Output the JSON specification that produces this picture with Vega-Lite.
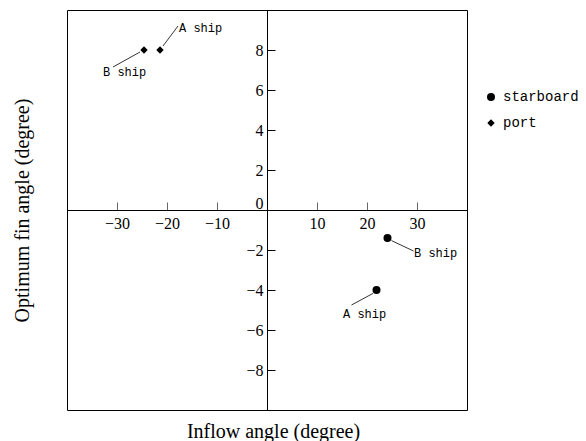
{
  "$schema": "https://vega.github.io/schema/vega-lite/v6.json",
  "width": 400,
  "height": 400,
  "autosize": {"type": "none"},
  "padding": {"left": 67, "top": 10, "right": 119, "bottom": 31},
  "background": "white",
  "config": {
    "view": {"stroke": "black", "strokeWidth": 1},
    "text": {"font": "Liberation Mono"}
  },
  "layer": [
    {
      "data": {"values": [
        {"series": "starboard", "ship": "A ship", "x": 21.9, "y": -4.0},
        {"series": "starboard", "ship": "B ship", "x": 24.1, "y": -1.4},
        {"series": "port", "ship": "A ship", "x": -21.4, "y": 8},
        {"series": "port", "ship": "B ship", "x": -24.6, "y": 8}
      ]},
      "mark": {"type": "point", "filled": true, "color": "black", "opacity": 1},
      "encoding": {
        "x": {
          "field": "x", "type": "quantitative",
          "scale": {"domain": [-40, 40], "nice": false, "zero": false},
          "axis": {
            "orient": "bottom", "offset": -200, "values": [-30, -20, -10, 10, 20, 30],
            "grid": false, "tickSize": -8, "tickColor": "#666", "tickWidth": 1,
            "domainColor": "black", "domainWidth": 1,
            "labelFont": "Liberation Serif", "labelFontSize": 16, "labelColor": "black",
            "labelPadding": 13, "labelOverlap": false, "labelFlush": false,
            "title": "Inflow angle (degree)", "titleFont": "Liberation Serif", "titleFontSize": 20,
            "titleFontWeight": "normal", "titleColor": "black",
            "titleX": 206, "titleY": 221, "titleBaseline": "middle", "titleAlign": "center"
          }
        },
        "y": {
          "field": "y", "type": "quantitative",
          "scale": {"domain": [-10, 10], "nice": false, "zero": false},
          "axis": {
            "orient": "left", "offset": -200, "values": [-8, -6, -4, -2, 0, 2, 4, 6, 8],
            "grid": false, "tickSize": -8, "tickColor": "black", "tickWidth": 1,
            "domainColor": "black", "domainWidth": 1,
            "labelFont": "Liberation Serif", "labelFontSize": 16, "labelColor": "black",
            "labelPadding": 12, "labelOverlap": false, "labelFlush": false,
            "labelBaseline": {"condition": {"test": "datum.value === 0", "value": "alphabetic"}, "value": "middle"},
            "labelOffset": {"condition": {"test": "datum.value === 0", "value": -2}, "value": 0},
            "title": "Optimum fin angle (degree)", "titleFont": "Liberation Serif", "titleFontSize": 20,
            "titleFontWeight": "normal", "titleColor": "black",
            "titleX": -245, "titleY": 200, "titleAngle": -90, "titleBaseline": "middle", "titleAlign": "center"
          }
        },
        "shape": {
          "field": "series", "type": "nominal",
          "scale": {"domain": ["starboard", "port"], "range": ["circle", "diamond"]},
          "legend": {
            "title": null, "orient": "none", "legendX": 417, "legendY": 80, "padding": 0,
            "labelFont": "Liberation Mono", "labelFontSize": 14, "labelColor": "black",
            "labelOffset": 5, "rowPadding": 12, "symbolFillColor": "black", "symbolStrokeColor": "black"
          }
        },
        "size": {
          "field": "series", "type": "nominal",
          "scale": {"domain": ["starboard", "port"], "range": [64, 55]},
          "legend": {
            "title": null, "orient": "none", "legendX": 417, "legendY": 80, "padding": 0,
            "labelFont": "Liberation Mono", "labelFontSize": 14, "labelColor": "black",
            "labelOffset": 5, "rowPadding": 12, "symbolFillColor": "black", "symbolStrokeColor": "black"
          }
        }
      }
    },
    {
      "data": {"values": [
        {"ship": "A ship", "series": "port", "x1": -20.8, "y1": 8.2, "x2": -17.8, "y2": 9.2},
        {"ship": "B ship", "series": "port", "x1": -25.4, "y1": 7.9, "x2": -30.8, "y2": 7.15},
        {"ship": "B ship", "series": "starboard", "x1": 24.9, "y1": -1.53, "x2": 29.3, "y2": -2.05},
        {"ship": "A ship", "series": "starboard", "x1": 21.2, "y1": -4.17, "x2": 16.9, "y2": -4.75}
      ]},
      "mark": {"type": "rule", "color": "black", "strokeWidth": 0.8},
      "encoding": {
        "x": {"field": "x1", "type": "quantitative", "scale": {"domain": [-40, 40], "nice": false, "zero": false}},
        "y": {"field": "y1", "type": "quantitative", "scale": {"domain": [-10, 10], "nice": false, "zero": false}},
        "x2": {"field": "x2"},
        "y2": {"field": "y2"}
      }
    },
    {
      "data": {"values": [
        {"ship": "A ship", "series": "port", "lx": -17.6, "ly": 9.1},
        {"ship": "B ship", "series": "port", "lx": -32.8, "ly": 6.9},
        {"ship": "B ship", "series": "starboard", "lx": 29.4, "ly": -2.15},
        {"ship": "A ship", "series": "starboard", "lx": 15.2, "ly": -5.2}
      ]},
      "mark": {"type": "text", "align": "left", "baseline": "middle", "font": "Liberation Mono", "fontSize": 12, "color": "black"},
      "encoding": {
        "x": {"field": "lx", "type": "quantitative", "scale": {"domain": [-40, 40], "nice": false, "zero": false}},
        "y": {"field": "ly", "type": "quantitative", "scale": {"domain": [-10, 10], "nice": false, "zero": false}},
        "text": {"field": "ship"}
      }
    }
  ]
}
